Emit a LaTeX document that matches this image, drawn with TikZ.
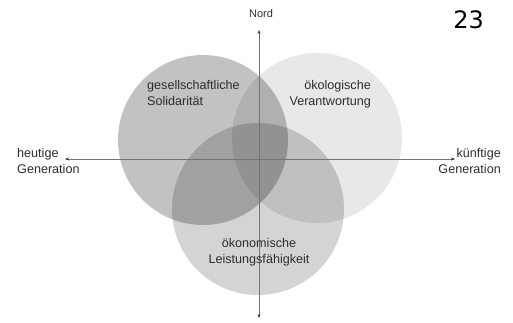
\documentclass[tikz,border=0pt]{standalone}
\usepackage{fontspec}
\setmainfont{Liberation Sans}
\newfontfamily\numfont{DejaVu Sans}
\usetikzlibrary{arrows.meta}
\begin{document}
\begin{tikzpicture}[x=1pt,y=-1pt,
  disk/.style={circle,inner sep=0pt,minimum size=170pt,fill=black,draw=none},
  lbl/.style={inner sep=0pt,font=\fontsize{12.6}{15.8}\selectfont,text=black!82},
  axis/.style={draw=black!55,line width=0.6pt,-{Stealth[length=4pt,width=3pt,black!80]}}]
\useasboundingbox (0,0) rectangle (513,322);
\fill[white] (0,0) rectangle (513,322);
% circles
\node[disk,fill opacity=0.24] (soz) at (203,140) {};
\node[disk,fill opacity=0.09] (oek) at (317,138) {};
\node[disk,fill opacity=0.17,minimum size=172pt] (wirt) at (258,209) {};
% axes
\coordinate (c) at (259,159);
\coordinate (tN) at (259,30);
\coordinate (tS) at (259,318);
\coordinate (tW) at (65,159);
\coordinate (tE) at (455,159);
\draw[axis] (c) -- (tN);
\draw[axis] (c) -- (tS);
\draw[axis] (c) -- (tW);
\draw[axis] (c) -- (tE);
% labels
\node[lbl,anchor=north] (nord) at (261,9) {\fontsize{11}{13}\selectfont Nord};
\node[lbl,align=left,anchor=north west] (t1) at (147,80) {gesellschaftliche\\Solidarität};
\node[lbl,align=right,anchor=north east] (t2) at (371,80) {ökologische\\Verantwortung};
\node[lbl,align=center,anchor=north] (t3) at (259,238) {ökonomische\\Leistungsfähigkeit};
\node[lbl,align=left,anchor=north west] (t4) at (17,148) {heutige\\Generation};
\node[lbl,align=right,anchor=north east] (t5) at (501,148) {künftige\\Generation};
\node[inner sep=0pt,anchor=north east,font=\numfont\fontsize{24}{24}\selectfont] (num) at (484,10) {23};
\end{tikzpicture}
\end{document}
